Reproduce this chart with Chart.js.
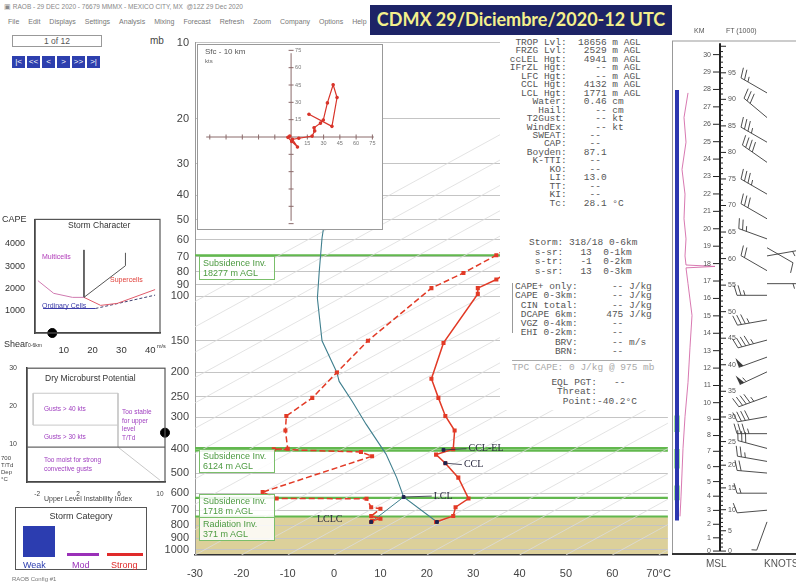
<!DOCTYPE html>
<html>
<head>
<meta charset="utf-8">
<title>RAOB CDMX 29/Diciembre/2020-12 UTC</title>
<script src="https://cdn.jsdelivr.net/npm/chart.js@4.4.1/dist/chart.umd.min.js"></script>
<style>
  html, body { margin: 0; padding: 0; }
  body { width: 796px; height: 585px; position: relative; overflow: hidden; background: #fff;
         font-family: "Liberation Sans", Arial, sans-serif; color: #444; }
  canvas { position: absolute; }
  .t { position: absolute; white-space: nowrap; line-height: 1; }
  .box { position: absolute; box-sizing: border-box; }
  pre { position: absolute; margin: 0; font-family: "Liberation Mono", "DejaVu Sans Mono", monospace;
        font-size: 9.5px; line-height: 8.45px; color: #555; }
  .menu span { margin-right: 9px; }
  .nav span { display: inline-block; width: 13px; height: 12px; margin-right: 2px; background: #2d3fae;
              color: #fff; font-size: 8px; text-align: center; line-height: 12px; }
  .inv { position: absolute; box-sizing: border-box; background: rgba(255,255,255,0.85); border: 1px solid #7abf6a;
         color: #4c9a40; font-size: 9px; line-height: 10px; padding: 1px 3px; width: 76px; }
</style>
</head>
<body>

<!-- window title + menu -->
<div class="t" style="left:4px;top:4px;font-size:6.5px;color:#888">&#9635; RAOB - 29 DEC 2020 - 76679 MMMX - MEXICO CITY, MX &nbsp;@12Z 29 Dec 2020</div>
<div class="t menu" style="left:8px;top:18px;font-size:7px;color:#777">
  <span>File</span><span>Edit</span><span>Displays</span><span>Settings</span><span>Analysis</span><span>Mixing</span><span>Forecast</span><span>Refresh</span><span>Zoom</span><span>Company</span><span>Options</span><span>Help</span>
</div>
<div class="box" style="left:12px;top:35px;width:90px;height:12px;border:1px solid #999"></div>
<div class="t" style="left:12px;top:37px;width:90px;text-align:center;font-size:8.5px;color:#555">1 of 12</div>
<div class="t nav" style="left:12px;top:51px"><span>|&lt;</span><span>&lt;&lt;</span><span>&lt;</span><span>&gt;</span><span>&gt;&gt;</span><span>&gt;|</span></div>

<div class="box" style="left:370px;top:5px;width:302px;height:30px;background:#1d2366"></div>
<div class="t" style="left:370px;top:10px;width:302px;text-align:center;font-family:Lato,'Open Sans',sans-serif;font-weight:700;font-size:18px;color:#f4f08c">CDMX 29/Diciembre/2020-12 UTC</div>

<div class="t" style="left:150px;top:36px;font-size:10px;color:#444">mb</div>

<!-- charts -->
<canvas id="skew" width="535" height="555" style="left:140px;top:30px"></canvas>
<canvas id="right" width="126" height="555" style="left:670px;top:30px"></canvas>
<canvas id="hodo" width="186" height="186" style="left:197px;top:44px;background:#fff"></canvas>
<canvas id="storm" width="172" height="145" style="left:0;top:212px"></canvas>
<canvas id="micro" width="172" height="140" style="left:0;top:362px"></canvas>

<div class="t" style="left:205px;top:48px;font-size:8px;color:#555">Sfc - 10 km</div>
<div class="t" style="left:205px;top:58px;font-size:6px;color:#666">kts</div>

<!-- inversion boxes -->
<div class="inv" style="left:199px;top:256px">Subsidence Inv.<br>18277 m AGL</div>
<div class="inv" style="left:199px;top:449px">Subsidence Inv.<br>6124 m AGL</div>
<div class="inv" style="left:199px;top:494px">Subsidence Inv.<br>1718 m AGL</div>
<div class="inv" style="left:199px;top:517px">Radiation Inv.<br>371 m AGL</div>

<!-- text panel -->
<div class="box" style="left:500px;top:35px;width:170px;height:375px;background:#fff"></div>
<pre style="left:504px;top:39px">  TROP Lvl:  18656 m AGL
  FRZG Lvl:   2529 m AGL
 ccLEL Hgt:   4941 m AGL
 IFrZL Hgt:     -- m AGL
   LFC Hgt:     -- m AGL
   CCL Hgt:   4132 m AGL
   LCL Hgt:   1771 m AGL
     Water:   0.46 cm
      Hail:     -- cm
    T2Gust:     -- kt
    WindEx:     -- kt
     SWEAT:    --
       CAP:    --
    Boyden:   87.1
     K-TTI:    --
        KO:    --
        LI:   13.0
        TT:    --
        KI:    --
        Tc:   28.1 &deg;C</pre>
<pre style="left:512px;top:238px;line-height:9.6px">   Storm: 318/18 0-6km
    s-sr:   13  0-1km
    s-tr:   -1  0-2km
    s-sr:   13  0-3km</pre>
<div class="box" style="left:512px;top:283px;width:1px;height:50px;background:#999"></div>
<pre style="left:515px;top:282px;line-height:9.3px">CAPE+ only:      -- J/kg
CAPE 0-3km:      -- J/kg
 CIN total:      -- J/kg
 DCAPE 6km:     475 J/kg
 VGZ 0-4km:      --
 EHI 0-2km:      --
       BRV:      -- m/s
       BRN:      --</pre>
<div class="box" style="left:512px;top:360px;width:140px;height:1px;background:#aaa"></div>
<pre style="left:512px;top:364px;color:#aaa">TPC CAPE: 0 J/kg @ 975 mb</pre>
<pre style="left:540px;top:378px;line-height:9.4px">  EQL PGT:   --
   Threat:
    Point:-40.2&deg;C</pre>

<!-- right panel labels -->
<div class="t" style="left:694px;top:27px;font-size:7px;color:#555">KM</div>
<div class="t" style="left:726px;top:27px;font-size:7px;color:#555">FT (1000)</div>
<div class="box" style="left:672px;top:553px;width:124px;height:1.5px;background:#333"></div>
<div class="t" style="left:706px;top:559px;font-size:10px;color:#555">MSL</div>
<div class="t" style="left:764px;top:559px;font-size:10px;color:#555">KNOTS</div>

<!-- storm character labels -->
<div class="t" style="left:2px;top:215px;font-size:9px;color:#333">CAPE</div>
<div class="t" style="left:68px;top:221px;font-size:8.5px;color:#333">Storm Character</div>
<div class="t" style="left:42px;top:253px;font-size:7px;color:#b03ab8">Multicells</div>
<div class="t" style="left:110px;top:276px;font-size:7px;color:#e0403a">Supercells</div>
<div class="t" style="left:42px;top:302px;font-size:7px;color:#3a3aa8">Ordinary Cells</div>
<div class="t" style="left:4px;top:340px;font-size:9px;color:#333">Shear<span style="font-size:5px">0-6km</span></div>
<div class="t" style="left:157px;top:344px;font-size:5.5px;color:#333">m/s</div>

<!-- dry microburst labels -->
<div class="t" style="left:45px;top:374px;font-size:8.5px;color:#333">Dry Microburst Potential</div>
<div class="t" style="left:44px;top:406px;font-size:6.5px;color:#a040c0">Gusts &gt; 40 kts</div>
<div class="t" style="left:44px;top:434px;font-size:6.5px;color:#a040c0">Gusts &gt; 30 kts</div>
<div class="t" style="left:122px;top:408px;font-size:6.5px;line-height:8.5px;color:#a040c0">Too stable<br>for upper<br>level<br>T/Td</div>
<div class="t" style="left:44px;top:455px;font-size:6.5px;line-height:9px;color:#a040c0">Too moist for strong<br>convective gusts</div>
<div class="t" style="left:1px;top:455px;font-size:6px;line-height:7px;color:#444">700<br>T/Td<br>Dep<br>&deg;C</div>
<div class="t" style="left:44px;top:495px;font-size:7px;color:#444">Upper Level Instability Index</div>

<!-- storm category -->
<div class="box" style="left:15px;top:507px;width:132px;height:63px;border:1.5px solid #555"></div>
<div class="t" style="left:15px;top:512px;width:132px;text-align:center;font-size:9px;color:#333">Storm Category</div>
<div class="box" style="left:23px;top:526px;width:32px;height:31px;background:#2c3db0"></div>
<div class="box" style="left:67px;top:553px;width:32px;height:3px;background:#9a30b8"></div>
<div class="box" style="left:107px;top:553px;width:36px;height:3px;background:#e02a2a"></div>
<div class="t" style="left:23px;top:561px;font-size:9px;color:#2c3db0">Weak</div>
<div class="t" style="left:72px;top:561px;font-size:9px;color:#9a30b8">Mod</div>
<div class="t" style="left:111px;top:561px;font-size:9px;color:#e02a2a">Strong</div>
<div class="t" style="left:12px;top:576px;font-size:6px;color:#777">RAOB Config #1</div>

<script>
// ---------- skew-T (x = plotted temperature on skewed axis, y = pressure mb) ----------
const pressureTicks = [10, 20, 30, 40, 50, 60, 70, 80, 90, 100, 150, 200, 250, 300, 400, 500, 600, 700, 800, 900, 1000];
const tempTicks = [-30, -20, -10, 0, 10, 20, 30, 40, 50, 60, 70];

const tempP = [75, 86, 93, 98, 153, 212, 252, 297, 339, 402, 422, 456, 520, 629, 680, 737, 778];
const tempX = [40, 35, 31, 31, 23.6, 21, 22.5, 24, 26, 25.7, 22, 24, 26.8, 29, 26.2, 25.7, 22];

const dewP = [60, 69, 81, 93, 150, 200, 252, 297, 339, 400, 402, 412, 428, 593, 628, 630, 680, 690, 737, 755, 770, 778];
const dewX = [40, 35, 27.9, 21, 7.3, 0.6, -4.7, -10.3, -10.5, -10, -13, 5.8, 8.2, -15.4, -12.4, 7, 8, 10, 8, 10, 8.2, 8];

const parcelP = [778, 620, 520, 420, 320, 260, 217, 200, 150, 102, 80, 59, 50];
const parcelX = [22.2, 15, 13.5, 11.2, 6.9, 3.9, 1.1, 0.6, -2.6, -3.6, -3.2, -2.6, -2];

const mixP = [778, 620];
const mixX = [8, 15];

// key levels: name, x, p, label x, label p
const levelNames = ['CCL-EL', 'CCL', 'LCL', 'LCLC'];
const levelX = [23.6, 24, 15, 8];
const levelP = [404, 456, 620, 778];
const levelLabelX = [29, 28, 21.5, -3.7];
const levelLabelP = [400, 462, 615, 760];

const sfcKeyX = [22.2, 8];
const sfcKeyP = [778, 778];

// inversion levels (mb) and ground shading
const inversionP = [69, 398, 407, 625, 740];
const groundTopP = 741;
const isothermSkew = 100;   // deg per decade of pressure
const isotherms = [-130, -120, -110, -100, -90, -80, -70, -60, -50, -40, -30, -20, -10, 0, 10, 20, 30, 40, 50, 60, 70];

// ---------- hodograph (kts) ----------
const hodoU = [-1.2, -2.9, 0.6, 5.9, 1.2, 7.1, 19.4, 21.8, 21.2, 27.1, 29.7, 33.5, 38.8, 42.4, 37.7, 16.5];
const hodoV = [0.8, -0.3, -3.9, -8.6, -2, -1.1, 0.8, 5.3, 8, 12, 14.7, 29.5, 45.2, 34.2, 9.2, 19.7];
const hodoTicks = [-75, -60, -45, -30, -15, 15, 30, 45, 60, 75];

// ---------- right panel: wind profile ----------
const windP = [778, 700, 600, 500, 450, 400, 350, 300, 250, 200, 175, 150, 125, 100, 90, 80, 70, 65, 60, 50, 40, 30, 25, 20, 16];
const windDir = [200, 265, 270, 275, 280, 285, 270, 260, 250, 245, 250, 255, 260, 270, 90, 300, 80, 120, 290, 300, 300, 305, 300, 310, 300];
const windSpd = [5, 10, 15, 20, 25, 30, 35, 40, 45, 55, 50, 45, 35, 25, 15, 20, 15, 10, 25, 30, 35, 40, 35, 30, 25];
const pinkP = [16, 20, 25, 32, 40, 50, 60, 70, 76, 77, 78, 90, 120, 160, 220, 300, 400, 500, 620, 740];
const pinkX = [16, 12, 14, 10, 13, 12, 14, 13, 14, 43, 14, 16, 20, 18, 16, 13, 11, 10, 9, 8];
const blueBarP = [15.6, 768];
const greenBarP = [[297, 345], [402, 480], [560, 640]];
const kmTicks = [0, 1, 2, 3, 4, 5, 6, 7, 8, 9, 10, 11, 12, 13, 14, 15, 16, 17, 18, 19, 20, 21, 22, 23, 24, 25, 26, 27, 28, 29, 30];

// ---------- storm character (shear m/s, CAPE J/kg) ----------
const multiBoundShear = [1, 6.5, 13, 17];
const multiBoundCape = [2350, 1780, 1600, 1600];
const superTopShear = [17, 17, 31.4, 31.4];
const superTopCape = [3730, 1600, 3020, 3600];
const superLowShear = [17, 22.8, 28.6, 41.7];
const superLowCape = [1600, 1240, 1330, 1950];
const ordinaryShear = [2.8, 21];
const ordinaryCape = [1100, 1100];
const ordinaryDashShear = [21, 41.7];
const ordinaryDashCape = [1100, 1700];
const stormShear = 6, stormCape = 0;

// ---------- dry microburst (ULI, 700 T/Td dep) ----------
const microLines = [
  [[-2.4, 23.4], [5.9, 23.4]],
  [[-2.4, 15], [5.9, 15]],
  [[-2.4, 23.4], [-2.4, 15]],
  [[5.9, 23.4], [5.9, 9.2]],
  [[5.9, 9.2], [10, 0.5]]
];
const microBase = [[-3, 9.2], [10.5, 9.2]];
const microPoint = [10.5, 13];

const pts = (xs, ys) => xs.map((v, i) => ({x: v, y: ys[i]}));
const font = (s) => ({family: 'Liberation Sans', size: s});

function pStd(km) {
  const z = km * 1000;
  return z <= 11000 ? 1013.25 * Math.pow(1 - 2.25577e-5 * z, 5.25588)
                    : 226.32 * Math.exp(-(z - 11000) / 6341.6);
}

// ground shading + inversion lines
const skewBack = {
  id: 'skewBack',
  beforeDraw(chart) {
    const {ctx, chartArea: a, scales: {y}} = chart;
    ctx.save();
    ctx.fillStyle = '#dcd09a';
    const gy = y.getPixelForValue(groundTopP);
    ctx.fillRect(a.left, gy, a.right - a.left, a.bottom - gy);
    ctx.restore();
  },
  beforeDatasetsDraw(chart) {
    const {ctx, chartArea: a, scales: {y}} = chart;
    ctx.save();
    ctx.fillStyle = 'rgba(140,210,120,0.35)';
    const b1 = y.getPixelForValue(inversionP[1]), b2 = y.getPixelForValue(inversionP[2]);
    ctx.fillRect(a.left, b1, a.right - a.left, b2 - b1);
    ctx.strokeStyle = '#62b84e';
    ctx.lineWidth = 2.2;
    inversionP.forEach(p => {
      const py = y.getPixelForValue(p);
      ctx.beginPath(); ctx.moveTo(a.left, py); ctx.lineTo(a.right, py); ctx.stroke();
    });
    ctx.restore();
  },
  afterDatasetsDraw(chart) {
    const {ctx, scales: {x, y}} = chart;
    ctx.save();
    ctx.font = '10px "Liberation Serif"';
    ctx.fillStyle = '#2a2a40';
    ctx.strokeStyle = '#2a2a40';
    ctx.lineWidth = 0.8;
    ctx.textBaseline = 'middle';
    levelNames.forEach((n, i) => {
      const px = x.getPixelForValue(levelX[i]), py = y.getPixelForValue(levelP[i]);
      const lx = x.getPixelForValue(levelLabelX[i]), ly = y.getPixelForValue(levelLabelP[i]);
      if (i < 3) { ctx.beginPath(); ctx.moveTo(px, py); ctx.lineTo(lx - 2, ly); ctx.stroke(); }
      ctx.fillText(n, lx, ly);
    });
    ctx.restore();
  }
};

const isoSets = isotherms.map(t => ({
  data: [{x: t, y: 1050}, {x: t + isothermSkew * Math.log10(1050 / 10), y: 10}],
  showLine: true, borderColor: '#dcdcdc', borderWidth: 0.8, pointRadius: 0
}));

new Chart(document.getElementById('skew'), {
  type: 'scatter',
  data: {
    datasets: [
      {data: pts(levelX.slice(0, 3).concat(sfcKeyX), levelP.slice(0, 3).concat(sfcKeyP)),
       pointStyle: 'rect', pointRadius: 2, backgroundColor: '#1c2450', borderColor: '#1c2450'},
      {data: pts(tempX, tempP), showLine: true, borderColor: '#e23a26', borderWidth: 1.5,
       pointStyle: 'rect', pointRadius: 1.8, backgroundColor: '#e23a26'},
      {data: pts(dewX, dewP), showLine: true, borderColor: '#e23a26', borderWidth: 1.5, borderDash: [6, 3],
       pointStyle: 'rect', pointRadius: 1.8, backgroundColor: '#e23a26'},
      {data: pts(parcelX, parcelP), showLine: true, borderColor: '#3f7f8e', borderWidth: 1.1, pointRadius: 0},
      {data: pts(mixX, mixP), showLine: true, borderColor: '#3f7f8e', borderWidth: 1, pointRadius: 0},
      ...isoSets
    ]
  },
  options: {
    responsive: false, animation: false, devicePixelRatio: 1,
    layout: {padding: {top: 11, right: 5, left: 0, bottom: 0}},
    plugins: {legend: {display: false}, tooltip: {enabled: false}},
    scales: {
      x: {
        type: 'linear', min: -30, max: 72,
        afterFit: s => { s.height = 30; },
        afterBuildTicks: s => { s.ticks = tempTicks.map(v => ({value: v})); },
        grid: {display: false},
        border: {color: '#333', width: 1.5},
        ticks: {callback: v => v === 70 ? '70°C' : v, color: '#444', font: font(11), maxRotation: 0, autoSkip: false, padding: 4}
      },
      y: {
        type: 'logarithmic', reverse: true, min: 10, max: 1050,
        afterFit: s => { s.width = 55; },
        afterBuildTicks: s => { s.ticks = pressureTicks.map(v => ({value: v})); },
        grid: {color: '#c4c4c4', drawTicks: false},
        border: {color: '#999'},
        ticks: {callback: v => String(v), color: '#444', font: font(11), autoSkip: false, padding: 6}
      }
    }
  },
  plugins: [skewBack]
});

// ---------- right panel ----------
const staffX = 95, axisX = 48;
const rightDraw = {
  id: 'rightDraw',
  afterDatasetsDraw(chart) {
    const {ctx, chartArea: a, scales: {x, y}} = chart;
    ctx.save();
    ctx.strokeStyle = '#999'; ctx.lineWidth = 1;
    ctx.beginPath(); ctx.moveTo(a.left, a.top); ctx.lineTo(a.right, a.top); ctx.stroke();
    ctx.beginPath(); ctx.moveTo(a.left + 0.5, a.top); ctx.lineTo(a.left + 0.5, a.bottom); ctx.stroke();
    const ax = x.getPixelForValue(axisX);
    ctx.strokeStyle = '#222'; ctx.lineWidth = 2;
    ctx.beginPath(); ctx.moveTo(ax, y.getPixelForValue(10.2)); ctx.lineTo(ax, y.getPixelForValue(pStd(0))); ctx.stroke();
    ctx.lineWidth = 1;
    ctx.font = '7px "Liberation Sans"'; ctx.fillStyle = '#555'; ctx.textBaseline = 'middle';
    ctx.textAlign = 'right';
    kmTicks.forEach(k => {
      const py = y.getPixelForValue(pStd(k));
      ctx.beginPath(); ctx.moveTo(ax - 7, py); ctx.lineTo(ax, py); ctx.stroke();
      ctx.fillText(String(k), ax - 9, py);
    });
    ctx.textAlign = 'left';
    for (let f = 0; f <= 100; f++) {
      const py = y.getPixelForValue(pStd(f * 0.3048));
      const big = f % 5 === 0;
      ctx.beginPath(); ctx.moveTo(ax, py); ctx.lineTo(ax + (big ? 6 : 3), py); ctx.stroke();
      if (big && f < 100) ctx.fillText(String(f), ax + 8, py);
    }
    // wind barbs
    const bx = x.getPixelForValue(staffX);
    ctx.strokeStyle = '#3a3a3a'; ctx.fillStyle = '#3a3a3a'; ctx.lineWidth = 0.9;
    windP.forEach((p, i) => {
      const by = y.getPixelForValue(p);
      const ang = windDir[i] * Math.PI / 180;
      const ux = Math.sin(ang), uy = -Math.cos(ang);
      const qx = -uy, qy = ux;
      const L = 30;
      ctx.beginPath(); ctx.moveTo(bx, by); ctx.lineTo(bx + ux * L, by + uy * L); ctx.stroke();
      let s = windSpd[i], pos = L;
      while (s >= 50) {
        const sx = bx + ux * pos, sy = by + uy * pos;
        ctx.beginPath(); ctx.moveTo(sx, sy); ctx.lineTo(sx + qx * 10, sy + qy * 10);
        ctx.lineTo(sx - ux * 5, sy - uy * 5); ctx.closePath(); ctx.fill();
        s -= 50; pos -= 7;
      }
      while (s >= 10) {
        const sx = bx + ux * pos, sy = by + uy * pos;
        ctx.beginPath(); ctx.moveTo(sx, sy); ctx.lineTo(sx + qx * 10 + ux * 3, sy + qy * 10 + uy * 3); ctx.stroke();
        s -= 10; pos -= 4;
      }
      if (s >= 5) {
        const sx = bx + ux * pos, sy = by + uy * pos;
        ctx.beginPath(); ctx.moveTo(sx, sy); ctx.lineTo(sx + qx * 5 + ux * 1.5, sy + qy * 5 + uy * 1.5); ctx.stroke();
      }
    });
    ctx.restore();
  }
};

new Chart(document.getElementById('right'), {
  type: 'scatter',
  data: {
    datasets: [
      {data: pts([5, 5], blueBarP), showLine: true, borderColor: '#2c36b0', borderWidth: 4, pointRadius: 0},
      ...greenBarP.map(seg => ({data: pts([5, 5], seg), showLine: true, borderColor: '#4fcf3c', borderWidth: 5, pointRadius: 0})),
      {data: pts(pinkX, pinkP), showLine: true, borderColor: '#d46aa8', borderWidth: 0.9, pointRadius: 0}
    ]
  },
  options: {
    responsive: false, animation: false, devicePixelRatio: 1,
    layout: {padding: {top: 11, bottom: 30, left: 2, right: 0}},
    plugins: {legend: {display: false}, tooltip: {enabled: false}},
    scales: {
      x: {type: 'linear', min: 0, max: 124, display: false},
      y: {type: 'logarithmic', reverse: true, min: 10, max: 1050, display: false}
    }
  },
  plugins: [rightDraw]
});

// ---------- hodograph ----------
const hodoAxes = {
  id: 'hodoAxes',
  beforeDatasetsDraw(chart) {
    const {ctx, chartArea: a, scales: {x, y}} = chart;
    ctx.save();
    ctx.strokeStyle = '#999'; ctx.lineWidth = 1;
    ctx.strokeRect(0.5, 0.5, chart.width - 1, chart.height - 1);
    const ox = x.getPixelForValue(0), oy = y.getPixelForValue(0);
    ctx.strokeStyle = '#8a6a6a';
    ctx.beginPath(); ctx.moveTo(a.left + 4, oy); ctx.lineTo(a.right - 4, oy); ctx.stroke();
    ctx.beginPath(); ctx.moveTo(ox, a.top + 4); ctx.lineTo(ox, a.bottom - 4); ctx.stroke();
    ctx.font = '5.5px "Liberation Sans"'; ctx.fillStyle = '#777';
    hodoTicks.forEach(t => {
      const px = x.getPixelForValue(t), py = y.getPixelForValue(t);
      ctx.beginPath(); ctx.moveTo(px, oy - 2.5); ctx.lineTo(px, oy + 2.5); ctx.stroke();
      ctx.beginPath(); ctx.moveTo(ox - 2.5, py); ctx.lineTo(ox + 2.5, py); ctx.stroke();
      if (t > 0) {
        ctx.textAlign = 'center'; ctx.textBaseline = 'top'; ctx.fillText(String(t), px, oy + 4);
        ctx.textAlign = 'left'; ctx.textBaseline = 'middle'; ctx.fillText(String(t), ox + 4, py);
      }
    });
    ctx.restore();
  }
};

new Chart(document.getElementById('hodo'), {
  type: 'scatter',
  data: {
    datasets: [
      {data: pts(hodoU, hodoV), showLine: true, borderColor: '#d8342a', borderWidth: 1.2,
       pointRadius: 1.2, backgroundColor: '#d8342a', borderJoinStyle: 'round'}
    ]
  },
  options: {
    responsive: false, animation: false, devicePixelRatio: 1,
    layout: {padding: 2},
    plugins: {legend: {display: false}, tooltip: {enabled: false}},
    scales: {
      x: {type: 'linear', min: -82, max: 80, display: false},
      y: {type: 'linear', min: -76, max: 76, display: false}
    }
  },
  plugins: [hodoAxes]
});

// ---------- storm character ----------
const boxFrame = {
  id: 'boxFrame',
  afterDraw(chart) {
    const {ctx, chartArea: a} = chart;
    ctx.save();
    ctx.strokeStyle = '#555'; ctx.lineWidth = 1.2;
    ctx.strokeRect(a.left, a.top, a.right - a.left, a.bottom - a.top);
    ctx.restore();
  }
};

new Chart(document.getElementById('storm'), {
  type: 'scatter',
  data: {
    datasets: [
      {data: [{x: stormShear, y: stormCape}], pointRadius: 4.5, backgroundColor: '#000', borderColor: '#000', clip: false},
      {data: pts(multiBoundShear, multiBoundCape), showLine: true, borderColor: '#d07ab0', borderWidth: 1, pointRadius: 0},
      {data: pts(superTopShear, superTopCape), showLine: true, borderColor: '#555', borderWidth: 1, pointRadius: 0},
      {data: pts(superLowShear, superLowCape), showLine: true, borderColor: '#e05a6a', borderWidth: 1, pointRadius: 0},
      {data: pts(ordinaryShear, ordinaryCape), showLine: true, borderColor: '#3a3aa8', borderWidth: 1, pointRadius: 0},
      {data: pts(ordinaryDashShear, ordinaryDashCape), showLine: true, borderColor: '#404070', borderWidth: 1, borderDash: [3, 2], pointRadius: 0}
    ]
  },
  options: {
    responsive: false, animation: false, devicePixelRatio: 1,
    layout: {padding: {top: 6, right: 12, left: 0, bottom: 0}},
    plugins: {legend: {display: false}, tooltip: {enabled: false}},
    scales: {
      x: {
        type: 'linear', min: 0, max: 43.4,
        afterFit: s => { s.height = 24; },
        afterBuildTicks: s => { s.ticks = [10, 20, 30, 40].map(v => ({value: v})); },
        grid: {display: false}, border: {color: '#333', width: 1.5},
        ticks: {color: '#333', font: font(9.5), padding: 4, callback: v => String(v)}
      },
      y: {
        type: 'linear', min: 0, max: 5100,
        afterFit: s => { s.width = 35; },
        afterBuildTicks: s => { s.ticks = [1000, 2000, 3000, 4000].map(v => ({value: v})); },
        grid: {display: false}, border: {color: '#333', width: 1.5},
        ticks: {color: '#333', font: font(9), padding: 2, callback: v => String(v)}
      }
    }
  },
  plugins: [boxFrame]
});

// ---------- dry microburst ----------
new Chart(document.getElementById('micro'), {
  type: 'scatter',
  data: {
    datasets: [
      {data: [{x: microPoint[0], y: microPoint[1]}], pointRadius: 4.5, backgroundColor: '#000', borderColor: '#000', clip: false},
      {data: microBase.map(p => ({x: p[0], y: p[1]})), showLine: true, borderColor: '#666', borderWidth: 1.2, pointRadius: 0},
      ...microLines.map(l => ({data: l.map(p => ({x: p[0], y: p[1]})), showLine: true, borderColor: '#c8c8c8', borderWidth: 1, pointRadius: 0}))
    ]
  },
  options: {
    responsive: false, animation: false, devicePixelRatio: 1,
    layout: {padding: {top: 6, right: 7, left: 0, bottom: 0}},
    plugins: {legend: {display: false}, tooltip: {enabled: false}},
    scales: {
      x: {
        type: 'linear', min: -3, max: 10.5,
        afterFit: s => { s.height = 20; },
        afterBuildTicks: s => { s.ticks = [-2, 2, 6, 10].map(v => ({value: v})); },
        grid: {display: false}, border: {color: '#333', width: 1.5},
        ticks: {color: '#444', font: font(6.5), padding: 0}
      },
      y: {
        type: 'linear', min: 0, max: 30,
        afterFit: s => { s.width = 27; },
        afterBuildTicks: s => { s.ticks = [10, 20, 30].map(v => ({value: v})); },
        grid: {display: false}, border: {color: '#333', width: 1.5},
        ticks: {color: '#444', font: font(7), padding: 2}
      }
    }
  },
  plugins: [boxFrame]
});
</script>
</body>
</html>
